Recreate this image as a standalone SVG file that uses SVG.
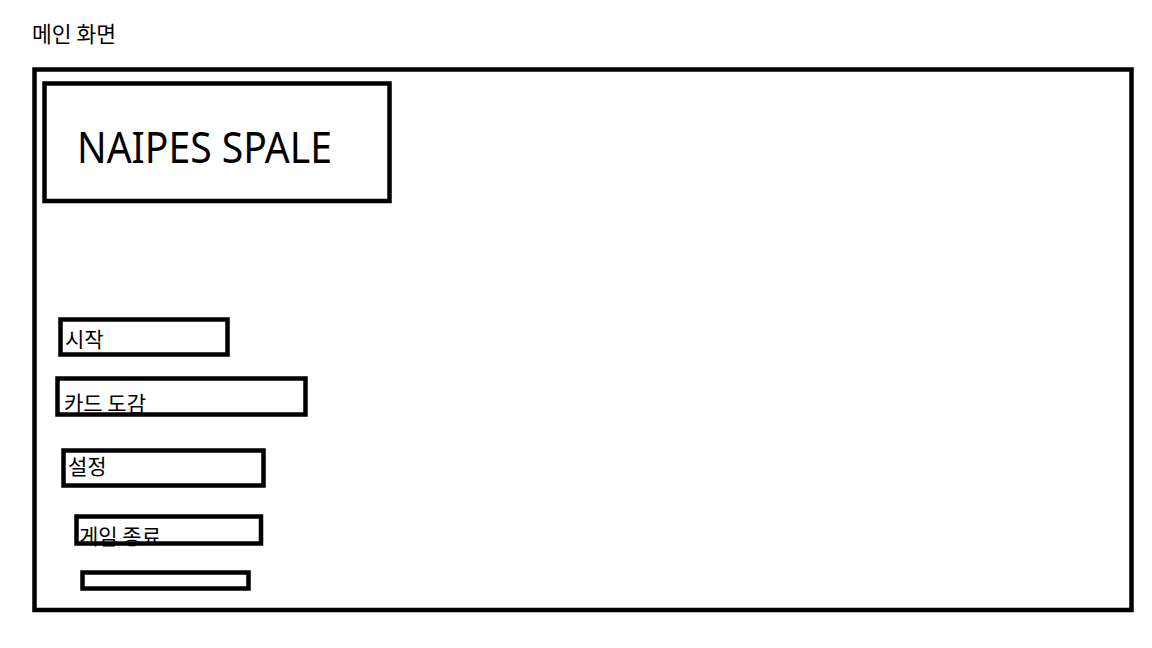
<svg xmlns="http://www.w3.org/2000/svg" width="1152" height="648" viewBox="0 0 1152 648">
<style>
.box{fill:none;stroke:#000;stroke-width:4.5}
.kr{font-family:"Noto Sans CJK KR","Noto Sans",sans-serif;font-size:21px;fill:#000}
.logo{font-family:"Noto Sans","DejaVu Sans",sans-serif;font-size:44px;fill:#000}
</style>
<rect width="1152" height="648" fill="#fff"/>
<text class="kr" x="32" y="41.5" style="font-size:21.5px">메인 화면</text>
<g id="screen"><rect class="box" x="34.5" y="69.5" width="1097" height="540.5" stroke-width="5"/></g>
<g id="logo">
<rect class="box" x="44.5" y="83.5" width="345" height="117.5"/>
<text class="logo" x="77" y="162.5" textLength="255" lengthAdjust="spacingAndGlyphs">NAIPES  SPALE</text>
</g>
<g id="btn-start">
<text class="kr" x="65" y="346.5">시작</text>
<rect class="box" x="60.5" y="319.5" width="167" height="35"/>
</g>
<g id="btn-cards">
<text class="kr" x="64" y="411">카드 도감</text>
<rect class="box" x="57.5" y="378.5" width="248" height="36"/>
</g>
<g id="btn-settings">
<text class="kr" x="68" y="473.5">설정</text>
<rect class="box" x="63.5" y="450.5" width="200" height="35"/>
</g>
<g id="btn-quit">
<text class="kr" x="79" y="543.5">게임 종료</text>
<rect class="box" x="76.5" y="516.5" width="184.5" height="27"/>
</g>
<g id="btn-empty">
<rect class="box" x="82.5" y="572.5" width="166" height="16"/>
</g>
<g id="connectors"/>
</svg>
